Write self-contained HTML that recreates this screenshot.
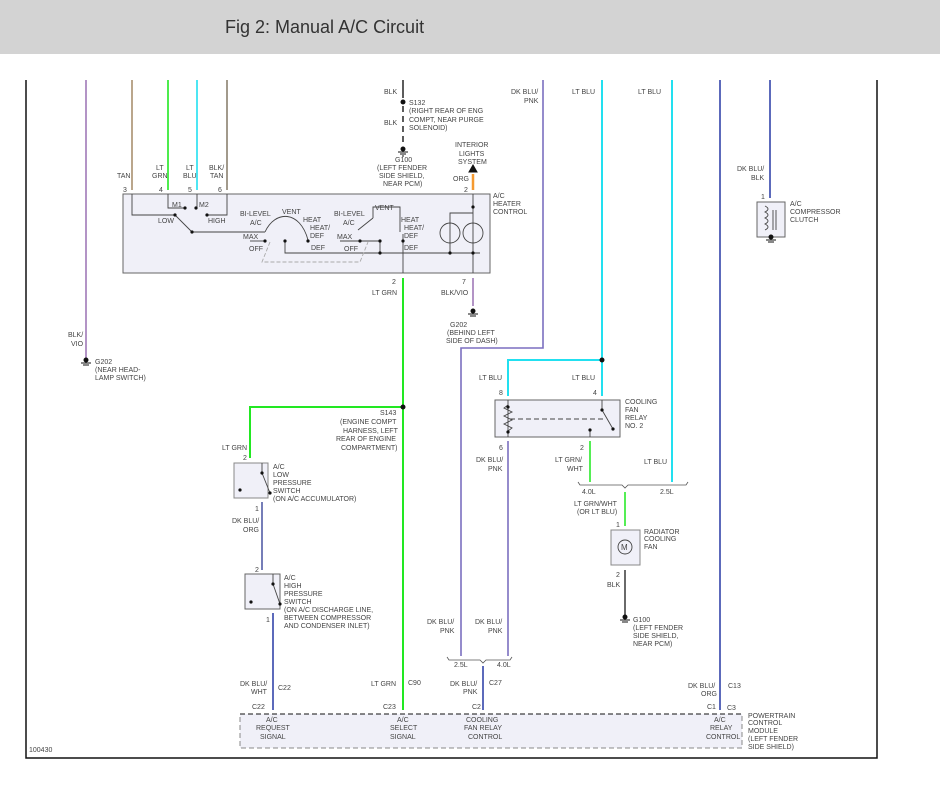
<!DOCTYPE html>
<html><head><meta charset="utf-8"><style>
html,body{margin:0;padding:0;background:#fff;}
svg{display:block;}
text{font-family:"Liberation Sans",sans-serif;font-size:7px;fill:#444;}
.t{font-size:18px;fill:#333;}
</style></head><body>
<svg width="940" height="795" viewBox="0 0 940 795" xmlns="http://www.w3.org/2000/svg">
<rect x="0" y="0" width="940" height="54" fill="#d3d3d3"/>
<text class="t" x="225" y="33" style="font-size:18px">Fig 2: Manual A/C Circuit</text>
<!-- border -->
<polyline points="26,80 26,758 877,758 877,80" fill="none" stroke="#111" stroke-width="1.5"/>

<!-- boxes -->
<rect x="123" y="194" width="367" height="79" fill="#f0f0f8" stroke="#666"/>
<rect x="495" y="400" width="125" height="37" fill="#f0f0f8" stroke="#666"/>
<rect x="757" y="202" width="28" height="35" fill="#f0f0f8" stroke="#666"/>
<rect x="611" y="530" width="29" height="35" fill="#f0f0f8" stroke="#888"/>
<rect x="234" y="463" width="34" height="35" fill="#f0f0f8" stroke="#888"/>
<rect x="245" y="574" width="35" height="35" fill="#f0f0f8" stroke="#666"/>
<rect x="240" y="714" width="502" height="34" fill="#f0f0f8" stroke="#888" stroke-dasharray="5,3"/>
<line x1="240" y1="714" x2="742" y2="714" stroke="#111" stroke-dasharray="5,3"/>

<!-- wires -->
<g fill="none" stroke-width="1.6">
<line x1="86" y1="80" x2="86" y2="358" stroke="#a07ab8"/>
<line x1="132" y1="80" x2="132" y2="190" stroke="#a89070"/>
<line x1="168" y1="80" x2="168" y2="190" stroke="#22e822"/>
<line x1="197" y1="80" x2="197" y2="190" stroke="#22e0f0"/>
<line x1="227" y1="80" x2="227" y2="190" stroke="#8a8070"/>
<line x1="403" y1="80" x2="403" y2="98" stroke="#333"/>
<line x1="403" y1="106" x2="403" y2="146" stroke="#333" stroke-dasharray="6,4"/>
<line x1="473" y1="174" x2="473" y2="190" stroke="#f59a30" stroke-width="2.5"/>
<line x1="403" y1="278" x2="403" y2="710" stroke="#22e822" stroke-width="2"/>
<polyline points="403,407 250,407 250,458" stroke="#22e822" stroke-width="2"/>
<line x1="473" y1="278" x2="473" y2="306" stroke="#a07ab8"/>
<polyline points="543,80 543,348 461,348 461,656" stroke="#7b6fc0"/>
<line x1="602" y1="80" x2="602" y2="396" stroke="#22e0f0" stroke-width="2"/>
<polyline points="602,360 508,360 508,396" stroke="#22e0f0" stroke-width="2"/>
<line x1="672" y1="80" x2="672" y2="482" stroke="#22e0f0" stroke-width="2"/>
<line x1="720" y1="80" x2="720" y2="710" stroke="#3344aa"/>
<line x1="770" y1="80" x2="770" y2="198" stroke="#3344aa"/>
<line x1="508" y1="441" x2="508" y2="656" stroke="#7b6fc0"/>
<line x1="590" y1="441" x2="590" y2="482" stroke="#55ee55" stroke-width="2"/>
<line x1="625" y1="492" x2="625" y2="526" stroke="#55ee55" stroke-width="2"/>
<line x1="625" y1="570" x2="625" y2="615" stroke="#444"/>
<line x1="262" y1="502" x2="262" y2="570" stroke="#6670b0" stroke-width="1.8"/>
<line x1="273" y1="613" x2="273" y2="710" stroke="#3344aa"/>
<line x1="483" y1="666" x2="483" y2="710" stroke="#3344aa"/>
</g>
<!-- braces -->
<g fill="none" stroke="#555" stroke-width="0.8">
<path d="M578,482 l2,3 h42 l3,3 l3,-3 h58 l2,-3"/>
<path d="M447,657 l2,3 h31 l3,3 l3,-3 h24 l2,-3"/>
</g>
<!-- dots -->
<g fill="#111">
<circle cx="403" cy="102" r="2.5"/><circle cx="403" cy="407" r="2.5"/>
<circle cx="602" cy="360" r="2.5"/>
</g>
<!-- grounds -->
<g stroke="#111" stroke-width="1" fill="#111">
<circle cx="403" cy="149" r="2"/><line x1="398" y1="152" x2="408" y2="152"/><line x1="400" y1="154" x2="406" y2="154"/><line x1="402" y1="156" x2="404" y2="156"/>
<circle cx="86" cy="360" r="2"/><line x1="81" y1="363" x2="91" y2="363"/><line x1="83" y1="365" x2="89" y2="365"/>
<circle cx="473" cy="311" r="2"/><line x1="468" y1="314" x2="478" y2="314"/><line x1="470" y1="316" x2="476" y2="316"/>
<circle cx="625" cy="617" r="2"/><line x1="620" y1="620" x2="630" y2="620"/><line x1="622" y1="622" x2="628" y2="622"/>
<circle cx="771" cy="237" r="2"/><line x1="766" y1="240" x2="776" y2="240"/><line x1="768" y1="242" x2="774" y2="242"/>
<polygon points="473,165 469,172 477,172"/>
</g>
<!-- internal heater control -->
<g fill="none" stroke="#444" stroke-width="0.9">
<polyline points="132,194 132,215 175,215"/>
<polyline points="168,194 168,208 185,208"/>
<polyline points="197,194 197,208 196,208"/>
<polyline points="227,194 227,215 207,215"/>
<line x1="175" y1="215" x2="192" y2="232"/>
<line x1="192" y1="232" x2="265" y2="232"/>
<path d="M265,232 C275,210 300,210 308,240"/>
<polyline points="250,241 265,241"/>
<polyline points="285,241 285,253 480,253"/>
<path d="M270,242 L262,262 L360,262 L368,242" stroke="#aaa" stroke-dasharray="4,2"/>
<line x1="358" y1="230" x2="373" y2="218"/>
<polyline points="373,218 373,207 400,207 400,232"/>
<line x1="403" y1="234" x2="403" y2="273"/>
<line x1="340" y1="241" x2="380" y2="241"/>
<line x1="380" y1="241" x2="380" y2="253"/>
<polyline points="450,253 450,213 473,213"/>
<line x1="473" y1="194" x2="473" y2="273"/>
<circle cx="450" cy="233" r="10"/><circle cx="473" cy="233" r="10"/>
</g>
<g fill="#111">
<circle cx="175" cy="215" r="1.6"/><circle cx="185" cy="208" r="1.6"/><circle cx="196" cy="208" r="1.6"/><circle cx="207" cy="215" r="1.6"/><circle cx="192" cy="232" r="1.6"/>
<circle cx="265" cy="241" r="1.6"/><circle cx="285" cy="241" r="1.6"/><circle cx="308" cy="241" r="1.6"/>
<circle cx="360" cy="241" r="1.6"/><circle cx="380" cy="241" r="1.6"/><circle cx="403" cy="241" r="1.6"/><circle cx="380" cy="253" r="1.6"/>
<circle cx="473" cy="207" r="1.6"/><circle cx="450" cy="253" r="1.6"/><circle cx="473" cy="253" r="1.6"/>
</g>
<!-- relay internals -->
<g fill="none" stroke="#444" stroke-width="0.9">
<line x1="508" y1="400" x2="508" y2="437"/>
<path d="M508,405 l-4,3 l8,4 l-8,4 l8,4 l-8,4 l8,4 l-4,3"/>
<line x1="510" y1="419" x2="605" y2="419" stroke-dasharray="5,3"/>
<line x1="602" y1="400" x2="602" y2="410"/><line x1="602" y1="410" x2="613" y2="429"/>
<line x1="590" y1="430" x2="590" y2="437"/>
<line x1="262" y1="463" x2="262" y2="473"/><line x1="262" y1="473" x2="270" y2="493"/>
<line x1="273" y1="574" x2="273" y2="584"/><line x1="273" y1="584" x2="280" y2="604"/>
<circle cx="625" cy="547" r="7"/>
<path d="M765,206 c4,2 4,4 0,6 c4,2 4,4 0,6 c4,2 4,4 0,6 c4,2 4,4 0,6"/>
<line x1="773" y1="210" x2="773" y2="230"/><line x1="776" y1="210" x2="776" y2="230"/>
</g>
<g fill="#111">
<circle cx="508" cy="407" r="1.6"/><circle cx="508" cy="432" r="1.6"/><circle cx="602" cy="410" r="1.6"/><circle cx="613" cy="429" r="1.6"/><circle cx="590" cy="430" r="1.6"/>
<circle cx="262" cy="473" r="1.6"/><circle cx="270" cy="493" r="1.6"/><circle cx="240" cy="490" r="1.6"/>
<circle cx="273" cy="584" r="1.6"/><circle cx="280" cy="604" r="1.6"/><circle cx="251" cy="602" r="1.6"/>
</g>
<text x="621" y="550" style="font-size:8px">M</text>

<!-- labels -->
<g>
<text x="117" y="178">TAN</text>
<text x="156" y="170">LT</text><text x="152" y="178">GRN</text>
<text x="186" y="170">LT</text><text x="183" y="178">BLU</text>
<text x="209" y="170">BLK/</text><text x="210" y="178">TAN</text>
<text x="123" y="192">3</text><text x="159" y="192">4</text><text x="188" y="192">5</text><text x="218" y="192">6</text>
<text x="172" y="207">M1</text><text x="199" y="207">M2</text>
<text x="158" y="223">LOW</text><text x="208" y="223">HIGH</text>
<text x="240" y="216">BI-LEVEL</text><text x="250" y="225">A/C</text>
<text x="282" y="214">VENT</text><text x="303" y="222">HEAT</text>
<text x="310" y="230">HEAT/</text><text x="310" y="238">DEF</text>
<text x="243" y="239">MAX</text><text x="249" y="251">OFF</text><text x="311" y="250">DEF</text>
<text x="334" y="216">BI-LEVEL</text><text x="343" y="225">A/C</text>
<text x="375" y="210">VENT</text><text x="401" y="222">HEAT</text>
<text x="404" y="230">HEAT/</text><text x="404" y="238">DEF</text>
<text x="337" y="239">MAX</text><text x="344" y="251">OFF</text><text x="404" y="250">DEF</text>
<text x="384" y="94">BLK</text><text x="384" y="125">BLK</text>
<text x="409" y="105">S132</text><text x="409" y="113">(RIGHT REAR OF ENG</text><text x="409" y="122">COMPT, NEAR PURGE</text><text x="409" y="130">SOLENOID)</text>
<text x="395" y="162">G100</text><text x="377" y="170">(LEFT FENDER</text><text x="379" y="178">SIDE SHIELD,</text><text x="383" y="186">NEAR PCM)</text>
<text x="455" y="147">INTERIOR</text><text x="459" y="156">LIGHTS</text><text x="458" y="164">SYSTEM</text>
<text x="453" y="181">ORG</text><text x="464" y="192">2</text>
<text x="493" y="198">A/C</text><text x="493" y="206">HEATER</text><text x="493" y="214">CONTROL</text>
<text x="392" y="284">2</text><text x="372" y="295">LT GRN</text>
<text x="462" y="284">7</text><text x="441" y="295">BLK/VIO</text>
<text x="450" y="327">G202</text><text x="447" y="335">(BEHIND LEFT</text><text x="446" y="343">SIDE OF DASH)</text>
<text x="68" y="337">BLK/</text><text x="71" y="346">VIO</text>
<text x="95" y="364">G202</text><text x="95" y="372">(NEAR HEAD-</text><text x="95" y="380">LAMP SWITCH)</text>
<text x="511" y="94">DK BLU/</text><text x="524" y="103">PNK</text>
<text x="572" y="94">LT BLU</text><text x="638" y="94">LT BLU</text>
<text x="737" y="171">DK BLU/</text><text x="751" y="180">BLK</text>
<text x="761" y="199">1</text>
<text x="790" y="206">A/C</text><text x="790" y="214">COMPRESSOR</text><text x="790" y="222">CLUTCH</text>
<text x="380" y="415">S143</text><text x="340" y="424">(ENGINE COMPT</text><text x="343" y="433">HARNESS, LEFT</text><text x="336" y="441">REAR OF ENGINE</text><text x="341" y="450">COMPARTMENT)</text>
<text x="222" y="450">LT GRN</text><text x="243" y="460">2</text>
<text x="273" y="469">A/C</text><text x="273" y="477">LOW</text><text x="273" y="485">PRESSURE</text><text x="273" y="493">SWITCH</text><text x="273" y="501">(ON A/C ACCUMULATOR)</text>
<text x="255" y="511">1</text><text x="232" y="523">DK BLU/</text><text x="243" y="532">ORG</text>
<text x="255" y="572">2</text>
<text x="284" y="580">A/C</text><text x="284" y="588">HIGH</text><text x="284" y="596">PRESSURE</text><text x="284" y="604">SWITCH</text><text x="284" y="612">(ON A/C DISCHARGE LINE,</text><text x="284" y="620">BETWEEN COMPRESSOR</text><text x="284" y="628">AND CONDENSER INLET)</text>
<text x="266" y="622">1</text>
<text x="479" y="380">LT BLU</text><text x="572" y="380">LT BLU</text>
<text x="499" y="395">8</text><text x="593" y="395">4</text>
<text x="625" y="404">COOLING</text><text x="625" y="412">FAN</text><text x="625" y="420">RELAY</text><text x="625" y="428">NO. 2</text>
<text x="499" y="450">6</text><text x="580" y="450">2</text>
<text x="476" y="462">DK BLU/</text><text x="488" y="471">PNK</text>
<text x="555" y="462">LT GRN/</text><text x="567" y="471">WHT</text>
<text x="644" y="464">LT BLU</text>
<text x="582" y="494">4.0L</text><text x="660" y="494">2.5L</text>
<text x="574" y="506">LT GRN/WHT</text><text x="577" y="514">(OR LT BLU)</text>
<text x="616" y="527">1</text>
<text x="644" y="534">RADIATOR</text><text x="644" y="541">COOLING</text><text x="644" y="549">FAN</text>
<text x="616" y="577">2</text><text x="607" y="587">BLK</text>
<text x="633" y="622">G100</text><text x="633" y="630">(LEFT FENDER</text><text x="633" y="638">SIDE SHIELD,</text><text x="633" y="646">NEAR PCM)</text>
<text x="427" y="624">DK BLU/</text><text x="440" y="633">PNK</text>
<text x="475" y="624">DK BLU/</text><text x="488" y="633">PNK</text>
<text x="454" y="667">2.5L</text><text x="497" y="667">4.0L</text>
<text x="240" y="686">DK BLU/</text><text x="251" y="694">WHT</text><text x="278" y="690">C22</text>
<text x="371" y="686">LT GRN</text><text x="408" y="685">C90</text>
<text x="450" y="686">DK BLU/</text><text x="463" y="694">PNK</text><text x="489" y="685">C27</text>
<text x="688" y="688">DK BLU/</text><text x="701" y="696">ORG</text><text x="728" y="688">C13</text>
<text x="252" y="709">C22</text><text x="383" y="709">C23</text><text x="472" y="709">C2</text><text x="707" y="709">C1</text><text x="727" y="710">C3</text>
<text x="266" y="722">A/C</text><text x="256" y="730">REQUEST</text><text x="260" y="739">SIGNAL</text>
<text x="397" y="722">A/C</text><text x="390" y="730">SELECT</text><text x="390" y="739">SIGNAL</text>
<text x="466" y="722">COOLING</text><text x="464" y="730">FAN RELAY</text><text x="468" y="739">CONTROL</text>
<text x="714" y="722">A/C</text><text x="710" y="730">RELAY</text><text x="706" y="739">CONTROL</text>
<text x="748" y="718">POWERTRAIN</text><text x="748" y="725">CONTROL</text><text x="748" y="733">MODULE</text><text x="748" y="741">(LEFT FENDER</text><text x="748" y="749">SIDE SHIELD)</text>
<text x="29" y="752">100430</text>
</g>
</svg>
</body></html>
